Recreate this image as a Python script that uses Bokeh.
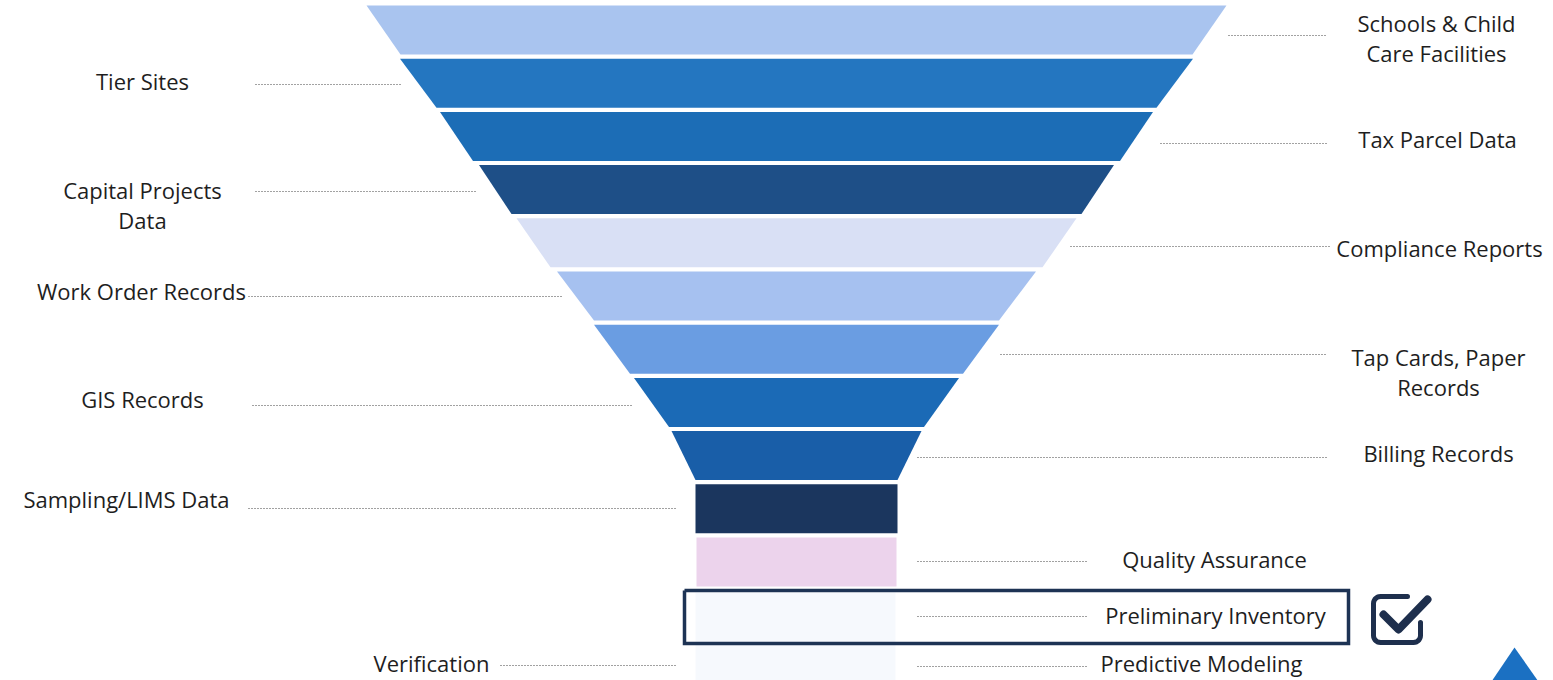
import numpy as np
from bokeh.plotting import figure
from bokeh.models import Range1d
from bokeh.core.properties import value
from bokeh.embed import file_html
from bokeh.resources import INLINE

# ---- data -------------------------------------------------------------
stages = ["Schools & Child Care Facilities", "Tier Sites", "Tax Parcel Data",
          "Capital Projects Data", "Compliance Reports", "Work Order Records",
          "Tap Cards, Paper Records", "GIS Records", "Billing Records",
          "Sampling/LIMS Data", "Quality Assurance"]
top_width = [860, 793, 713, 635, 560, 479, 405, 325, 250, 202, 200]
bottom_width = [792, 720, 647, 570, 492, 405, 333, 255, 202, 202, 200]
stage_colors = ["#a9c4ef", "#2476c0", "#1c6db6", "#1e4f87", "#d9e0f5",
                "#a6c1f0", "#6a9de2", "#1b6ab6", "#195ea8", "#1b365e", "#ecd3ec"]

# labels: (lines, x, y)
left_labels = [(["Tier Sites"], 142, 80),
               (["Capital Projects", "Data"], 142, 189),
               (["Work Order Records"], 141, 290),
               (["GIS Records"], 142, 398),
               (["Sampling/LIMS Data"], 126, 498),
               (["Verification"], 431, 662)]
right_labels = [(["Schools & Child", "Care Facilities"], 1436, 22),
                (["Tax Parcel Data"], 1437, 138),
                (["Compliance Reports"], 1439, 247),
                (["Tap Cards, Paper", "Records"], 1438, 356),
                (["Billing Records"], 1438, 452),
                (["Quality Assurance"], 1214, 558),
                (["Preliminary Inventory"], 1215, 614),
                (["Predictive Modeling"], 1201, 662)]
# leader lines (x0, x1, y)
leaders = [(255, 400, 84), (255, 475, 191), (248, 563, 296), (252, 633, 405),
           (248, 677, 508), (500, 677, 665),
           (1228, 1327, 35), (1160, 1327, 143), (1070, 1330, 246),
           (1000, 1327, 354), (917, 1327, 457), (917, 1088, 561),
           (917, 1088, 616), (917, 1088, 666)]

# ---- figure -----------------------------------------------------------
p = figure(width=1553, height=680, output_backend="svg", toolbar_location=None,
           x_range=Range1d(0, 1553), y_range=Range1d(680, 0),
           x_axis_type=None, y_axis_type=None, min_border=0)
p.grid.visible = False
p.outline_line_color = None
p.background_fill_color = "white"
p.border_fill_color = "white"

CX, Y0, PITCH, H = 796, 5, 53.2, 49

# faint haze below the funnel
p.quad(left=[695], right=[895], top=[592], bottom=[690],
       fill_color="#eaf1fb", fill_alpha=0.45, line_color=None)

xs, ys = [], []
for i, (tw, bw) in enumerate(zip(top_width, bottom_width)):
    yt = Y0 + i * PITCH
    yb = yt + H
    xs.append([CX - tw / 2, CX + tw / 2, CX + bw / 2, CX - bw / 2])
    ys.append([yt, yt, yb, yb])
p.patches(xs, ys, fill_color=stage_colors, line_color=None)

# leader lines
for x0, x1, y in leaders:
    p.line([x0, x1], [y, y], line_color="#444444", line_width=1.2, line_dash="1 2")

FONT = value("Open Sans")
for labels in (left_labels, right_labels):
    for lines, x, y in labels:
        for k, t in enumerate(lines):
            p.text(x=[x], y=[y + k * 30], text=[t], text_font=FONT,
                   text_font_size="22px", text_color="#1e1e1e",
                   text_align="center", text_baseline="middle")

# preliminary inventory box
p.line([684, 1348, 1348, 684, 684], [590, 590, 643, 643, 590],
       line_color="#1d3354", line_width=3.5, line_join="miter")

# checkbox icon
r = 7
L, R, T, B = 1373, 1420, 596, 642
def arc(cx, cy, a0, a1):
    a = np.linspace(a0, a1, 8)
    return list(cx + r * np.cos(a)), list(cy + r * np.sin(a))
bx, by = [1407], [T]
ax_, ay_ = arc(L + r, T + r, -np.pi / 2, -np.pi); bx += ax_; by += ay_
ax_, ay_ = arc(L + r, B - r, np.pi, np.pi / 2); bx += ax_; by += ay_
ax_, ay_ = arc(R - r, B - r, np.pi / 2, 0); bx += ax_; by += ay_
bx.append(R); by.append(622)
p.line(bx, by, line_color="#1e2f4d", line_width=5, line_cap="round", line_join="round")
p.line([1383, 1398, 1427], [614, 629, 599], line_color="#1e2f4d", line_width=8,
       line_cap="round", line_join="round")

# blue triangle at bottom right
p.patch([1514, 1540, 1489], [647, 684, 684], fill_color="#1b70c2", line_color=None)

open("out.html", "w").write(file_html(p, INLINE))
